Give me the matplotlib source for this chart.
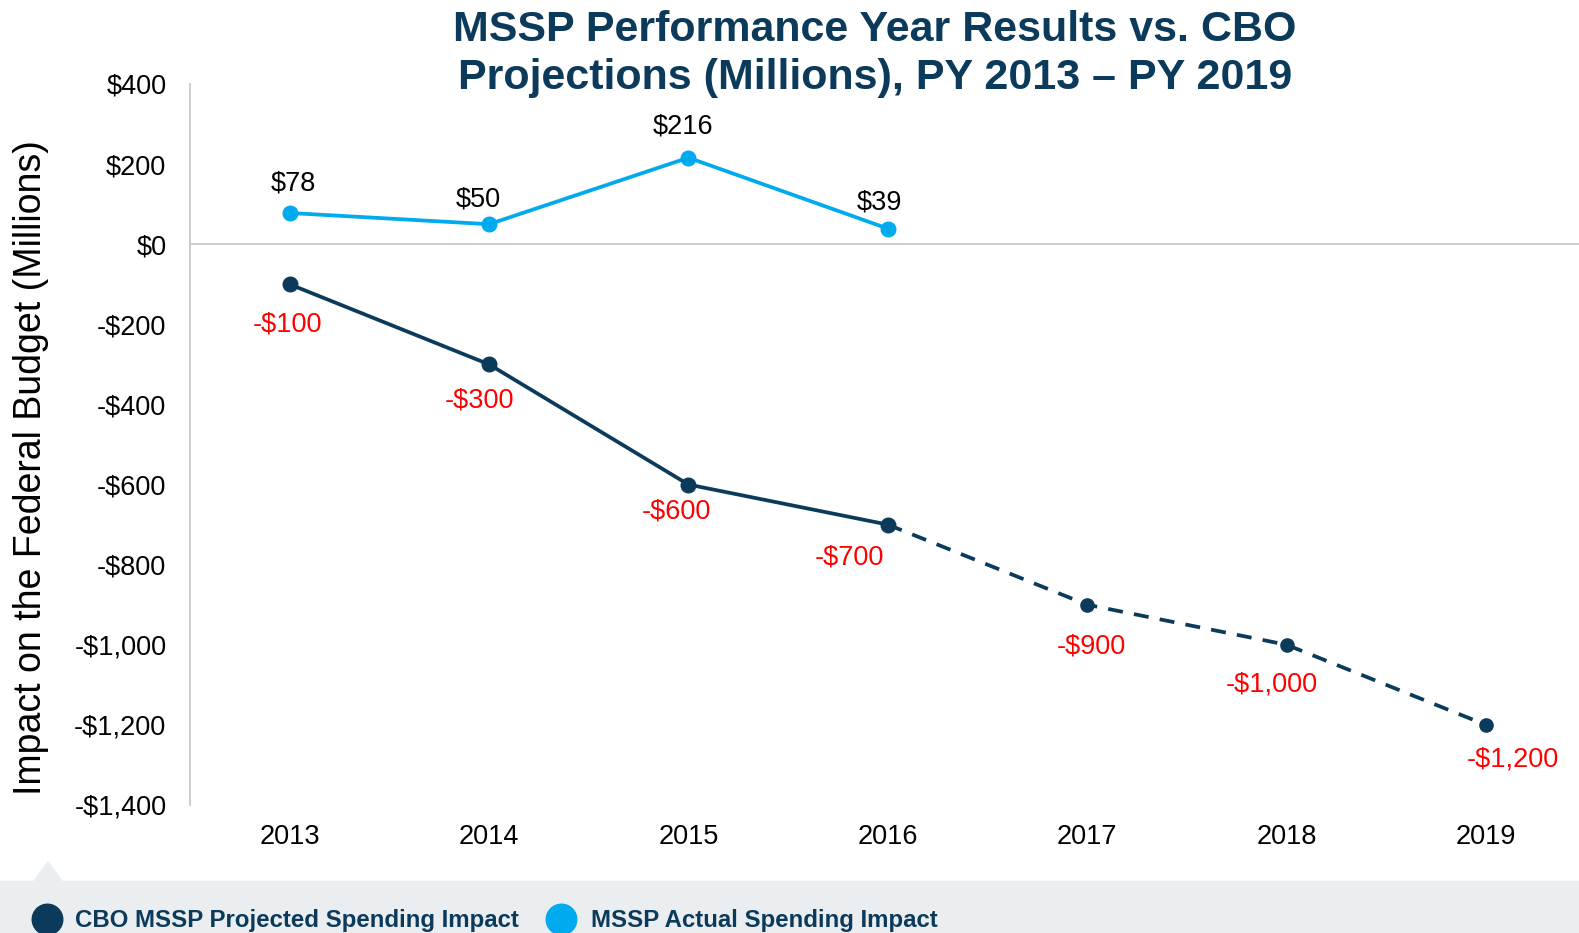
import matplotlib.pyplot as plt
from matplotlib.patches import Rectangle, Polygon
from matplotlib.lines import Line2D

years = [2013, 2014, 2015, 2016, 2017, 2018, 2019]
cbo_projected = [-100, -300, -600, -700, -900, -1000, -1200]
actual_years = [2013, 2014, 2015, 2016]
actual_spending = [78, 50, 216, 39]
cbo_labels = ["-$100", "-$300", "-$600", "-$700", "-$900", "-$1,000", "-$1,200"]
actual_labels = ["$78", "$50", "$216", "$39"]
yticks = [400, 200, 0, -200, -400, -600, -800, -1000, -1200, -1400]
ytick_labels = ["$400", "$200", "$0", "-$200", "-$400", "-$600", "-$800",
                "-$1,000", "-$1,200", "-$1,400"]

navy = "#0B3A5B"
blue = "#00AAEE"

plt.rcParams["font.family"] = ["Liberation Sans", "DejaVu Sans"]

W, H = 1579, 933
fig = plt.figure(figsize=(W / 100, H / 100), dpi=100)
ax = fig.add_axes([190 / W, 1 - 805 / H, 1 - 190 / W, (805 - 84) / H])

x = list(range(len(years)))
xa = list(range(len(actual_years)))

# solid part (actual years) and dashed projection
ax.plot(x[:4], cbo_projected[:4], color=navy, lw=2.7, marker="o", ms=10.5, zorder=3)
ax.plot(x[3:], cbo_projected[3:], color=navy, lw=2.7, ls=(0, (4, 3)), zorder=3)
ax.plot(x[4:], cbo_projected[4:], ls="none", color=navy, marker="o", ms=9.5, zorder=3)
ax.plot(xa, actual_spending, color=blue, lw=2.7, marker="o", ms=10.5, zorder=3)

ax.axhline(0, color="#C8C8C8", lw=1.3, zorder=1)

# label offsets in pixels (dx, dy)
cbo_off = [(-2, -40), (-10, -36), (-12, -27), (-38, -33), (4, -42), (-15, -40), (27, -35)]
act_off = [(4, 29), (-11, 25), (-5, 31), (-8, 26)]
fs = 19.5
for i, (v, t) in enumerate(zip(cbo_projected, cbo_labels)):
    ax.annotate(t, (x[i], v), xytext=(cbo_off[i][0] * 0.72, cbo_off[i][1] * 0.72),
                textcoords="offset points", ha="center", va="center",
                color="#FF0000", fontsize=fs)
for i, (v, t) in enumerate(zip(actual_spending, actual_labels)):
    ax.annotate(t, (xa[i], v), xytext=(act_off[i][0] * 0.72, act_off[i][1] * 0.72),
                textcoords="offset points", ha="center", va="center",
                color="black", fontsize=fs)

ax.set_xlim(-0.5, 6 + (W - 1486) / 199.3)
ax.set_ylim(-1400, 400)
ax.set_xticks(x)
ax.set_xticklabels([str(y) for y in years], fontsize=fs)
ax.set_yticks(yticks)
ax.set_yticklabels(ytick_labels, fontsize=fs)
ax.tick_params(length=0, pad=17)
ax.tick_params(axis="x", pad=14)
for s in ["top", "right", "bottom"]:
    ax.spines[s].set_visible(False)
ax.spines["left"].set_color("#C8C8C8")
ax.spines["left"].set_linewidth(1.3)

fig.text(31 / W, 1 - 468 / H, "Impact on the Federal Budget (Millions)",
         rotation=90, ha="center", va="center", fontsize=27)

fig.text(875 / W, 1 - 54 / H, "MSSP Performance Year Results vs. CBO\nProjections (Millions), PY 2013 \u2013 PY 2019",
         ha="center", va="center", fontsize=31, fontweight="bold", color=navy,
         linespacing=1.27)

# legend band at the bottom
fig.add_artist(Rectangle((0, 0), 1, (H - 881) / H, transform=fig.transFigure,
                         color="#EBEEF1", zorder=0))
fig.add_artist(Polygon([(34 / W, 1 - 881 / H), (48 / W, 1 - 862 / H), (62 / W, 1 - 881 / H)],
                       closed=True, transform=fig.transFigure, color="#EBEEF1", zorder=0))
for cx, col, label, tx in [(47, navy, "CBO MSSP Projected Spending Impact", 75),
                           (561, blue, "MSSP Actual Spending Impact", 591)]:
    fig.add_artist(Line2D([cx / W], [1 - 919 / H], transform=fig.transFigure,
                          marker="o", ms=22, color=col, ls="none"))
    fig.text(tx / W, 1 - 920 / H, label, ha="left", va="center", fontsize=17.3,
             fontweight="bold", color=navy)

fig.savefig("out.png", dpi=100)
